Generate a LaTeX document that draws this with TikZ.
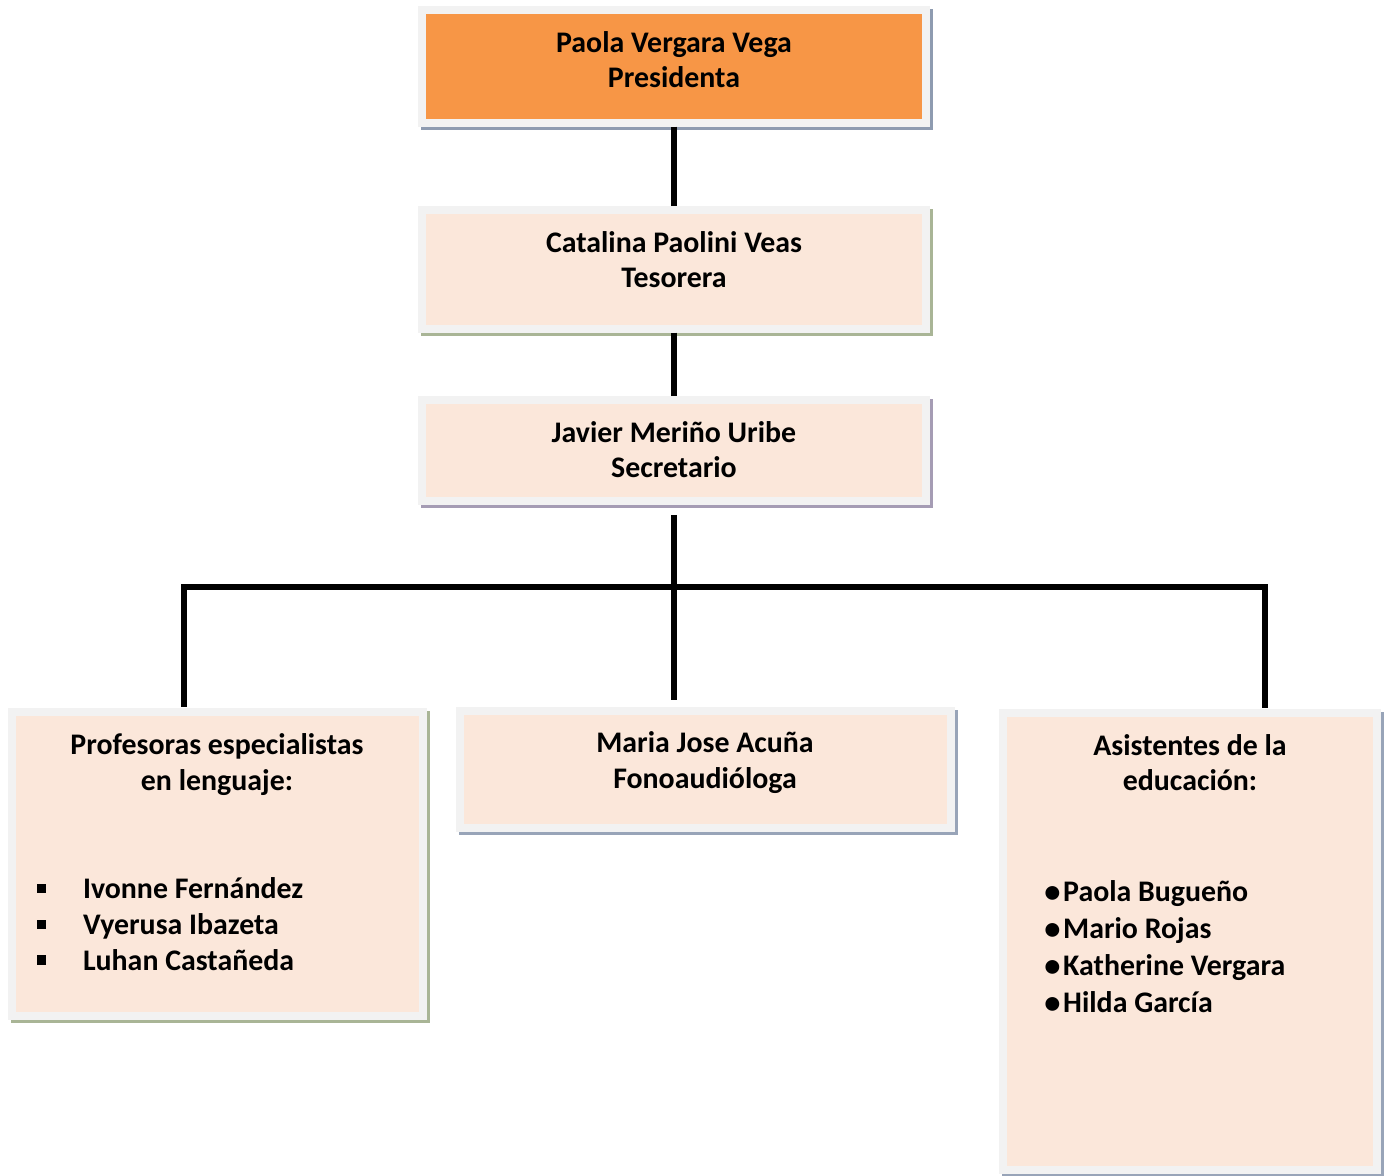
\documentclass[tikz,border=0pt]{standalone}
\usepackage{fontspec}
\setmainfont{Carlito}
\definecolor{frame}{HTML}{F2F2F2}
\definecolor{peach}{HTML}{FBE7DA}
\definecolor{orangebox}{HTML}{F79646}
\definecolor{shblue}{HTML}{8E9BB0}
\definecolor{shgreen}{HTML}{A9B596}
\definecolor{shlilac}{HTML}{A59CB4}
\definecolor{shsteel}{HTML}{98A4B8}
\newcommand{\sqbul}{\makebox[26pt][l]{\raisebox{3.2pt}{\rule{5.2pt}{5.2pt}}}}
\newcommand{\rdbul}{{\fontsize{18.5}{18.5}\selectfont\raisebox{-0.4pt}{•}}\hspace{1.5pt}}

\begin{document}
\begin{tikzpicture}[x=0.02cm,y=-0.02cm,
    box/.style={draw=frame,fill=peach,line width=4.25pt,inner sep=0pt},
    size/.style 2 args={minimum width=#1*0.02cm,minimum height=#2*0.02cm},
    shade/.style={preaction={draw=#1,fill=#1,line width=4.25pt,
        transform canvas={shift={(0.06cm,-0.06cm)}}}},
    title/.style={font=\bfseries\fontsize{17}{20}\selectfont,align=center,inner sep=0pt},
    conn/.style={line width=3.3pt,line join=miter}]
    \useasboundingbox (0,0) rectangle (1389,1176);
    % boxes
    \node [box,fill=orangebox,shade=shblue,size={504}{113}] (pres) at (674,66.5) {};
    \node [box,shade=shgreen,size={504}{119}] (tes) at (674,269.5) {};
    \node [box,shade=shlilac,size={504}{101}] (sec) at (674,450.5) {};
    \node [box,shade=shgreen,size={411}{304}] (prof) at (217.5,864) {};
    \node [box,shade=shsteel,size={491}{117}] (fono) at (705.5,769.5) {};
    \node [box,shade=shsteel,size={374}{457}] (asis) at (1190,941.5) {};
    % texts
    \node [title] (pres-t) at (674,59.5) {Paola Vergara Vega\\Presidenta};
    \node [title] (tes-t) at (674,260) {Catalina Paolini Veas\\Tesorera};
    \node [title] (sec-t) at (674,450) {Javier Meriño Uribe\\Secretario};
    \node [title] (fono-t) at (705,762.5) {Maria Jose Acuña\\Fonoaudióloga};
    \node [title] (prof-t) at (217,764.5) {Profesoras especialistas\\en lenguaje:};
    \node [title,align=left,anchor=west,font=\bfseries\fontsize{17}{20.4}\selectfont] (prof-l) at (37,924) {%
        \sqbul Ivonne Fernández\\\sqbul Vyerusa Ibazeta\\\sqbul Luhan Castañeda};
    \node [title] (asis-t) at (1190,763) {Asistentes de la\\educación:};
    \node [title,align=left,anchor=west,font=\bfseries\fontsize{17}{21}\selectfont] (asis-l) at (1044,947) {%
        \rdbul Paola Bugueño\\\rdbul Mario Rojas\\\rdbul Katherine Vergara\\\rdbul Hilda García};
    % connectors
    \coordinate (busL) at (184,587);
    \coordinate (busR) at (1265,587);
    \draw [conn] (pres) -- (tes);
    \draw [conn] (tes) -- (sec);
    \draw [conn,shorten <=5.7pt,shorten >=4pt] (sec.south) -- (sec.south |- fono.north);
    \draw [conn,shorten <=1pt,shorten >=1pt] (busL |- prof.north) -- (busL) -- (busR) -- (busR |- asis.north);
\end{tikzpicture}
\end{document}
